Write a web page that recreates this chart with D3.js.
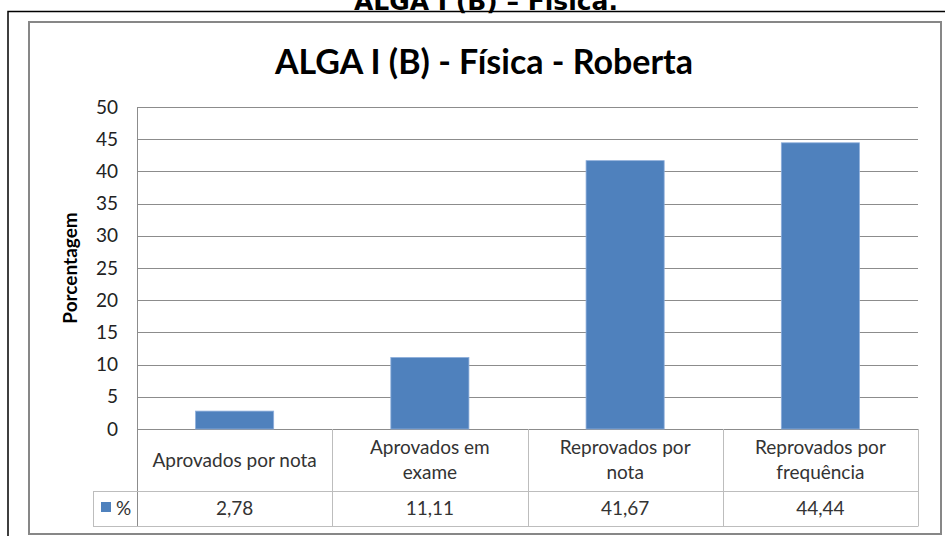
<!DOCTYPE html>
<html>
<head>
<meta charset="utf-8">
<script src="https://cdn.jsdelivr.net/npm/d3@7/dist/d3.min.js"></script>
<style>
  body { margin: 0; background: #fff; }
  svg { display: block; }
  text { font-family: Lato, "Open Sans", sans-serif; fill: #222; }
</style>
</head>
<body>
<div id="chart"></div>
<script>
var pageTitle = 'ALGA I (B) – Física.'
var chartTitle = 'ALGA I (B) - Física - Roberta'
var yTitle = 'Porcentagem'
var seriesName = '%'

var categories = ['Aprovados por nota', 'Aprovados em\nexame', 'Reprovados por\nnota', 'Reprovados por\nfrequência']
var values = [2.78, 11.11, 41.67, 44.44]
var yTicks = [0, 5, 10, 15, 20, 25, 30, 35, 40, 45, 50]

var blue = '#4f81bd'
var gridColor = '#8c8c8c'
var tableColor = '#bdbdbd'

var width = 945, height = 536
var plot = {left: 137, right: 918, top: 107, bottom: 429}
var rowCat = 491, rowVal = 526, legendLeft = 93

var pt = d3.formatLocale({decimal: ',', thousands: '.', grouping: [3], currency: ['', '']}).format('.2f')

var svg = d3.select('#chart').append('svg')
  .attr('width', width)
  .attr('height', height)

///////////
// FRAME //
///////////

// linha preta da pagina
svg.append('path')
  .attr('d', 'M8,' + height + 'V11.5H' + width)
  .attr('fill', 'none')
  .attr('stroke', '#000')
  .attr('stroke-width', 1.5)

// titulo da pagina, cortado no topo como no original
svg.append('text')
  .attr('x', 486)
  .attr('y', 9.5)
  .attr('text-anchor', 'middle')
  .style('font-family', '"DejaVu Sans", sans-serif')
  .style('font-weight', 'bold')
  .style('font-size', '25px')
  .style('fill', '#000')
  .text(pageTitle)

// borda do grafico
svg.append('rect')
  .attr('x', 29)
  .attr('y', 22)
  .attr('width', 912)
  .attr('height', 512)
  .attr('fill', '#fff')
  .attr('stroke', '#878787')
  .attr('stroke-width', 2)

svg.append('text')
  .attr('x', 484)
  .attr('y', 74)
  .attr('text-anchor', 'middle')
  .style('font-weight', 'bold')
  .style('font-size', '34px')
  .style('fill', '#000')
  .text(chartTitle)

////////////
// SCALES //
////////////

var x = d3.scaleBand().domain(categories).range([plot.left, plot.right])
var y = d3.scaleLinear().domain([0, 50]).range([plot.bottom, plot.top])

// grade
svg.append('g').selectAll('line')
  .data(yTicks)
  .join('line')
  .attr('x1', plot.left)
  .attr('x2', plot.right)
  .attr('y1', function(d) { return Math.round(y(d)) + 0.5 })
  .attr('y2', function(d) { return Math.round(y(d)) + 0.5 })
  .attr('stroke', gridColor)

svg.append('g').selectAll('text')
  .data(yTicks)
  .join('text')
  .attr('x', 118)
  .attr('y', function(d) { return y(d) })
  .attr('dy', '0.35em')
  .attr('text-anchor', 'end')
  .style('font-size', '19px')
  .text(function(d) { return d })

svg.append('text')
  .attr('transform', 'translate(77,' + (plot.top + plot.bottom) / 2 + ') rotate(-90)')
  .attr('text-anchor', 'middle')
  .style('font-weight', 'bold')
  .style('font-size', '19px')
  .style('fill', '#000')
  .text(yTitle)

//////////
// BARS //
//////////

var barW = x.bandwidth() * 0.4

svg.append('g').selectAll('rect')
  .data(values)
  .join('rect')
  .attr('x', function(d, i) { return x(categories[i]) + (x.bandwidth() - barW) / 2 })
  .attr('y', function(d) { return y(d) })
  .attr('width', barW)
  .attr('height', function(d) { return y(0) - y(d) })
  .attr('fill', blue)
  .attr('stroke', '#8eaedb')
  .attr('stroke-width', 0.8)

// eixo vertical
svg.append('line')
  .attr('x1', plot.left + 0.5).attr('x2', plot.left + 0.5)
  .attr('y1', plot.top).attr('y2', rowVal)
  .attr('stroke', gridColor)

/////////////////////
// TABELA DE DADOS //
/////////////////////

var table = svg.append('g')

categories.forEach(function(c, i) {
  var x1 = Math.round(x(c) + x.bandwidth()) + 0.5
  table.append('line')
    .attr('x1', x1).attr('x2', x1)
    .attr('y1', plot.bottom).attr('y2', rowVal)
    .attr('stroke', tableColor)
})

table.append('line')
  .attr('x1', legendLeft).attr('x2', plot.right + 0.5)
  .attr('y1', rowCat + 0.5).attr('y2', rowCat + 0.5)
  .attr('stroke', tableColor)
table.append('line')
  .attr('x1', legendLeft).attr('x2', plot.right + 0.5)
  .attr('y1', rowVal + 0.5).attr('y2', rowVal + 0.5)
  .attr('stroke', tableColor)
table.append('line')
  .attr('x1', legendLeft + 0.5).attr('x2', legendLeft + 0.5)
  .attr('y1', rowCat).attr('y2', rowVal)
  .attr('stroke', tableColor)

table.selectAll('text.cat')
  .data(categories)
  .join('text')
  .attr('class', 'cat')
  .attr('text-anchor', 'middle')
  .style('font-size', '19px')
  .style('fill', '#333')
  .each(function(d) {
    var lines = d.split('\n')
    var cy = (plot.bottom + rowCat) / 2 - (lines.length - 1) * 12.5
    d3.select(this).selectAll('tspan')
      .data(lines)
      .join('tspan')
      .attr('x', x(d) + x.bandwidth() / 2)
      .attr('y', function(l, j) { return cy + j * 25 })
      .attr('dy', '0.35em')
      .text(function(l) { return l })
  })

table.selectAll('text.val')
  .data(values)
  .join('text')
  .attr('class', 'val')
  .attr('x', function(d, i) { return x(categories[i]) + x.bandwidth() / 2 })
  .attr('y', (rowCat + rowVal) / 2)
  .attr('dy', '0.35em')
  .attr('text-anchor', 'middle')
  .style('font-size', '19px')
  .style('fill', '#333')
  .text(function(d) { return pt(d) })

// legenda
table.append('rect')
  .attr('x', 101).attr('y', 502)
  .attr('width', 10).attr('height', 10)
  .attr('fill', blue)
table.append('text')
  .attr('x', 116)
  .attr('y', (rowCat + rowVal) / 2)
  .attr('dy', '0.35em')
  .style('font-size', '19px')
  .style('fill', '#333')
  .text(seriesName)
</script>
</body>
</html>
